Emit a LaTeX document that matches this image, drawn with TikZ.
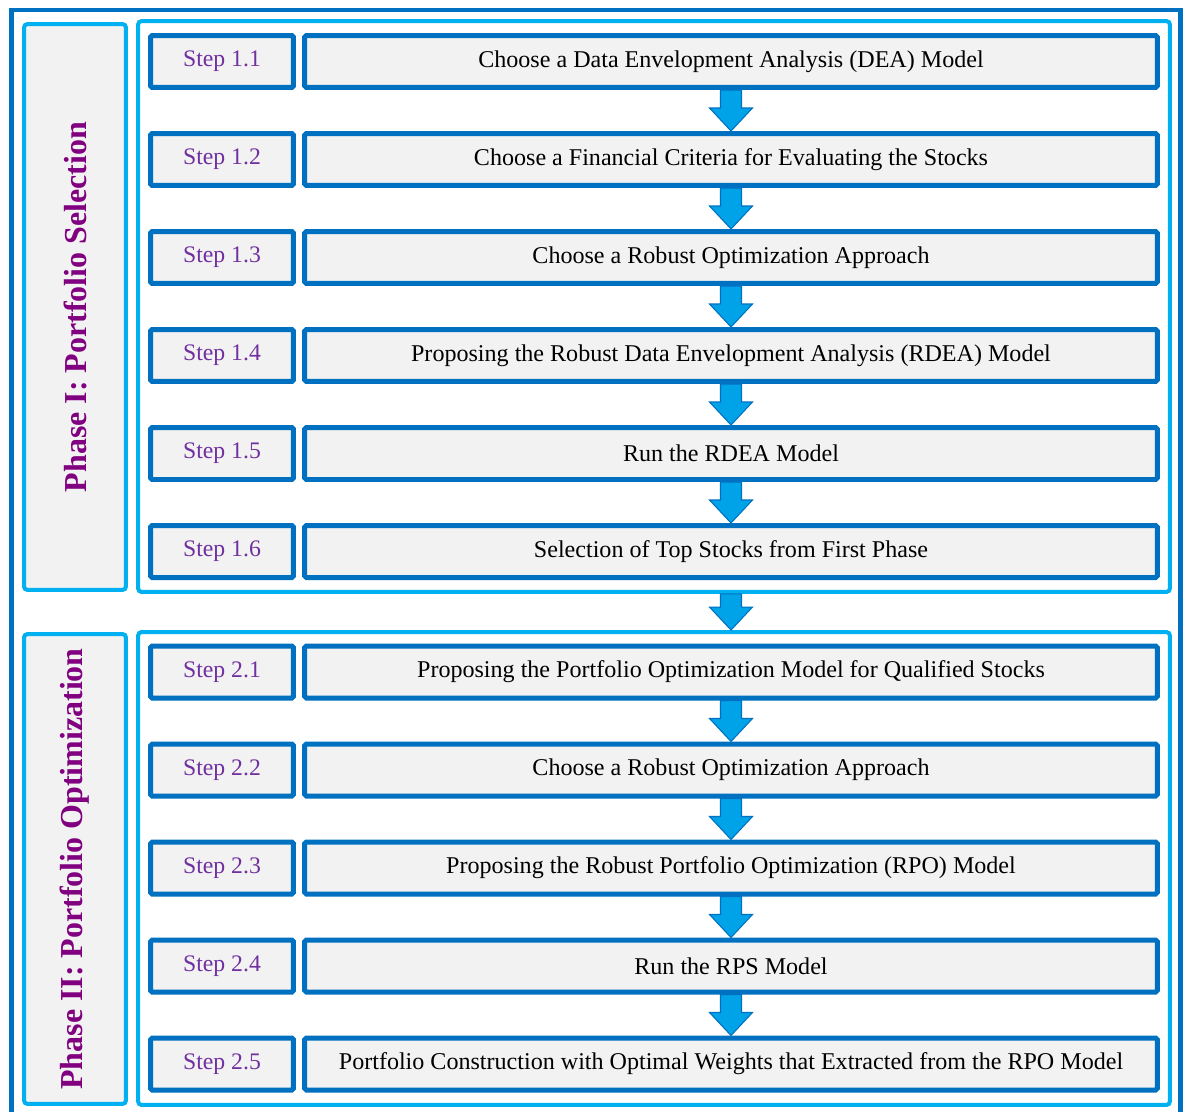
\documentclass[tikz,border=0pt]{standalone}
\usepackage{fontspec}
\setmainfont{Liberation Serif}
\usetikzlibrary{calc}

\definecolor{darkblue}{RGB}{0,112,192}
\definecolor{lightblue}{RGB}{0,176,240}
\definecolor{boxgray}{RGB}{242,242,242}
\definecolor{steppurple}{RGB}{112,48,160}
\definecolor{phasepurple}{RGB}{128,0,128}
\definecolor{arrowblue}{RGB}{0,162,232}

% block arrow from #1 (top) down to #2 (tip)
\newcommand\blockarr[2]{%
  \filldraw[arrowbody] ($#1+(-10.5,0)$) -- ($#1+(10.5,0)$) -- ($#2+(10.5,-23)$)
    -- ($#2+(21.5,-23)$) -- #2 -- ($#2+(-21.5,-23)$) -- ($#2+(-10.5,-23)$) -- cycle;}

\begin{document}
\begin{tikzpicture}[x=0.02cm, y=-0.02cm,
    stepbox/.style={draw=darkblue, line width=0.1cm, fill=boxgray, rounded corners=1pt,
      minimum width=2.86cm, minimum height=1.04cm, text=steppurple,
      font=\fontsize{13.5}{16}\selectfont},
    taskbox/.style={stepbox, minimum width=17.06cm, text=black,
      font=\fontsize{13.7}{16}\selectfont},
    panel/.style={draw=lightblue, line width=0.08cm, rounded corners=2pt, minimum width=20.64cm},
    phasebox/.style={draw=lightblue, line width=0.08cm, fill=boxgray, rounded corners=2pt,
      rotate=90, minimum height=2.04cm, text=phasepurple,
      font=\bfseries\fontsize{18.2}{21}\selectfont},
    arrowbody/.style={fill=arrowblue, draw=darkblue, line width=0.6pt, line join=miter}]
    \useasboundingbox (0,0) rectangle (1187,1112);

    % frames
    \draw[darkblue, line width=0.1cm] (11.5,10) rectangle (1180.5,1118);
    \node[panel, minimum height=11.42cm] (p1) at (654,306.5) {};
    \node[panel, minimum height=9.46cm] (p2) at (654,868.5) {};
    \node[phasebox, minimum width=11.32cm] (ph1) at (75,307) {Phase I: Portfolio Selection};
    \node[phasebox, minimum width=9.4cm] (ph2) at (75,869) {Phase II: Portfolio Optimization};

    % phase I
    \node[stepbox] (s11) at (222,61.5) {Step 1.1};
    \node[taskbox] (t11) at (731,61.5) {Choose a Data Envelopment Analysis (DEA) Model};
    \node[stepbox] (s12) at (222,159.5) {Step 1.2};
    \node[taskbox] (t12) at (731,159.5) {Choose a Financial Criteria for Evaluating the Stocks};
    \node[stepbox] (s13) at (222,257.5) {Step 1.3};
    \node[taskbox] (t13) at (731,257.5) {Choose a Robust Optimization Approach};
    \node[stepbox] (s14) at (222,355.5) {Step 1.4};
    \node[taskbox] (t14) at (731,355.5) {Proposing the Robust Data Envelopment Analysis (RDEA) Model};
    \node[stepbox] (s15) at (222,453.5) {Step 1.5};
    \node[taskbox] (t15) at (731,453.5) {Run the RDEA Model};
    \node[stepbox] (s16) at (222,551.5) {Step 1.6};
    \node[taskbox] (t16) at (731,551.5) {Selection of Top Stocks from First Phase};

    % phase II
    \node[stepbox] (s21) at (222,672) {Step 2.1};
    \node[taskbox] (t21) at (731,672) {Proposing the Portfolio Optimization Model for Qualified Stocks};
    \node[stepbox] (s22) at (222,770) {Step 2.2};
    \node[taskbox] (t22) at (731,770) {Choose a Robust Optimization Approach};
    \node[stepbox] (s23) at (222,868) {Step 2.3};
    \node[taskbox] (t23) at (731,868) {Proposing the Robust Portfolio Optimization (RPO) Model};
    \node[stepbox] (s24) at (222,966) {Step 2.4};
    \node[taskbox] (t24) at (731,966) {Run the RPS Model};
    \node[stepbox] (s25) at (222,1064) {Step 2.5};
    \node[taskbox] (t25) at (731,1064) {Portfolio Construction with Optimal Weights that Extracted from the RPO Model};

    % arrows
    \blockarr{(t11.south)}{(t12.north)}
    \blockarr{(t12.south)}{(t13.north)}
    \blockarr{(t13.south)}{(t14.north)}
    \blockarr{(t14.south)}{(t15.north)}
    \blockarr{(t15.south)}{(t16.north)}
    \coordinate (a1) at (t16.south |- p1.south);
    \coordinate (a2) at (t21.north |- p2.north);
    \blockarr{(a1)}{(a2)}
    \blockarr{(t21.south)}{(t22.north)}
    \blockarr{(t22.south)}{(t23.north)}
    \blockarr{(t23.south)}{(t24.north)}
    \blockarr{(t24.south)}{(t25.north)}
\end{tikzpicture}
\end{document}
